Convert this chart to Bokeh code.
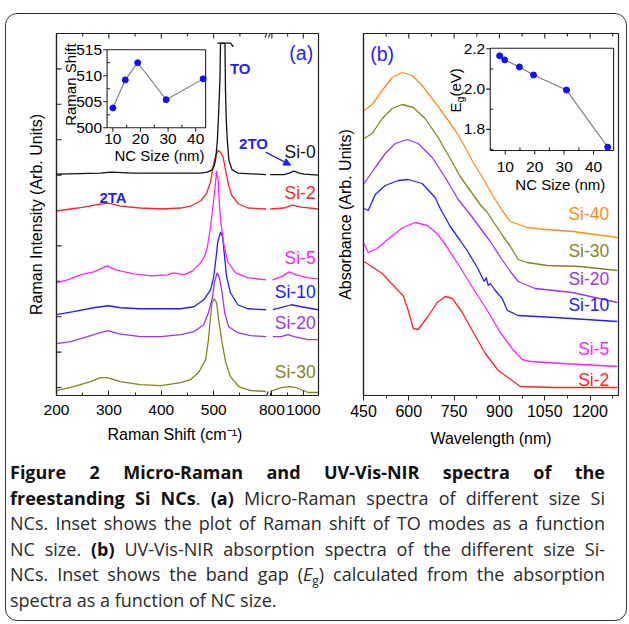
import numpy as np
from bokeh.plotting import figure
from bokeh.models import Range1d, FixedTicker, Arrow, NormalHead, Div, Title, InlineStyleSheet
from bokeh.layouts import row, column
from bokeh.embed import file_html
from bokeh.resources import INLINE
from bokeh.core.properties import value

FONT = "Liberation Sans"
BLUE = "#1f1fff"
AXC = "#222222"

# ---------------- (a) micro-Raman spectra: shift (cm^-1), intensity (arb.) ----------------
si0_shift = [200, 284, 303, 347, 412, 475, 488, 496, 501, 504, 507, 509.5, 512, 513, 521.5, 522.5, 524, 526, 529, 535, 546, 600,
             790, 877, 910, 942, 974, 1006, 1096]
si0_int = [222, 223, 224, 223, 223, 223, 224, 226, 230, 238, 256, 284, 318, 353, 353, 306, 276, 256, 236, 226.5, 223, 221.5,
           221.5, 221.5, 223, 225, 223, 222, 221]
si2_shift = [200, 240, 284, 299, 322, 360, 399, 437, 456, 475, 486.5, 494, 500, 504, 508.5, 513, 518, 523, 528.5, 534, 547.6, 565, 600,
             790, 877, 929, 987, 1096]
si2_int = [185, 188, 192, 193, 190, 188, 187, 188, 190, 195, 203, 214, 233, 241, 246, 244, 239, 225, 211, 201, 192, 188, 187,
           187, 188, 191, 189, 187]
si5_shift = [200, 221, 246, 271, 297, 313, 347, 380, 412, 423.5, 443, 460, 475, 483, 488, 494, 500, 504, 505.6, 508.5, 510.4, 513, 519,
             526.6, 542, 565, 600, 804.5, 858, 910, 955, 1032, 1096]
si5_int = [113, 116, 121, 124, 130, 126, 122, 120, 121, 123, 121, 125, 133, 140, 149, 169, 196, 216, 225, 216, 196, 176, 153,
           134, 123, 118, 116, 116, 119, 124, 121, 118, 117]
si10_shift = [200, 232.5, 271, 299, 322, 360, 399, 437, 462, 481, 494, 500, 504, 507.5, 513, 517, 520, 524.7, 532, 546, 565, 600,
              806.5, 858, 923, 987, 1096]
si10_int = [81, 84, 88, 90, 88, 87, 87, 87, 89, 96, 106, 119, 136, 153, 164, 159, 143, 119, 103, 91, 87, 86,
            86, 88, 91, 89, 86]
si20_shift = [200, 227, 259, 284, 299, 316.5, 360, 399, 437, 462, 481, 490, 498, 501, 506.6, 511, 516, 521, 528.5, 546, 570.5, 600,
              806.5, 858, 903, 942, 1032, 1096]
si20_int = [52, 54, 59, 63, 65, 62, 59, 59, 61, 64, 71, 83, 99, 113, 123, 118, 103, 83, 69, 63, 60, 59,
            59, 59, 61, 59, 56, 56]
si30_shift = [200, 232.5, 265, 284, 297, 322, 360, 399, 437, 456, 471, 484.6, 490, 494, 497, 501, 505.6, 509.4, 516, 523, 532, 547.6,
              570.5, 600, 790, 858, 910, 955, 1032, 1096]
si30_int = [5, 9, 14, 18, 18, 14, 11, 10, 13, 16, 23, 36, 56, 79, 93, 97, 93, 76, 53, 33, 19, 9,
            5, 4, 4, 8, 9, 8, 3, 3]
raman_labels = ["Si-0", "Si-2", "Si-5", "Si-10", "Si-20", "Si-30"]
raman_label_y = [244, 203, 138, 104, 73, 24]
raman_yticks = [8, 43.5, 79, 114.5, 150, 185.5, 221, 256.5, 292, 327.5]
raman_xticks = [200, 300, 400, 500, 800, 1000]
raman_xminor = [250, 350, 450, 550, 900]

# inset (a): TO Raman shift vs NC size
raman_size = [10, 14.5, 19, 29.3, 42.7]
raman_to = [503.8, 509.2, 512.5, 505.4, 509.4]

# ---------------- (b) UV-Vis-NIR: wavelength (nm), absorbance (arb.) ----------------
b40_wl = [452, 479, 512, 545, 578, 611, 644, 697, 754, 787, 813, 846, 879.5, 909, 936, 992, 1035, 1144, 1290]
b40_ab = [285, 291, 305, 318, 323, 320, 310, 289, 265, 248, 233, 217, 199, 185, 174, 168, 166.5, 164, 158]
b30_wl = [452, 479, 512, 545, 578, 614.6, 654, 697, 737, 770, 803, 836, 860, 879.5, 912.5, 936, 962, 992, 1058, 1167.5, 1290]
b30_ab = [257, 262, 277, 287, 291, 288, 277, 258, 237, 219, 205, 191, 183, 174, 159, 149, 136, 133, 130, 129, 125]
b20_wl = [452, 489, 522, 555, 595, 631, 677.5, 720.5, 763.5, 803, 840, 869.5, 906, 936, 962, 1018, 1141, 1290]
b20_ab = [212, 228, 242, 252, 256, 252, 238, 218, 196, 181, 166, 154, 137, 124, 114, 107, 103, 93]
b10_wl = [452, 465.6, 489, 522, 565, 598, 644, 687, 704, 737, 770, 793, 826.5, 849.6, 856, 863, 870, 886, 909, 926, 962, 1085, 1290]
b10_ab = [187, 185, 201, 210, 215, 216, 212, 198, 187, 169, 155, 145, 128, 114, 118, 110, 112, 105, 97, 85, 80, 78, 74]
b5_wl = [452, 465.6, 495, 538, 581, 621, 661, 694, 727, 770, 813, 860, 903, 942, 975, 1002, 1111, 1290]
b5_ab = [152, 143, 147, 158, 168, 173, 170, 162, 148, 128, 107, 85, 63, 47, 36, 34, 32, 29]
b2_wl = [452, 512, 555, 581, 598, 615, 631, 661, 694, 720.5, 744, 777, 810, 853, 896, 942, 969, 1085, 1290]
b2_ab = [134, 122, 108, 100, 85, 67, 66, 78, 93, 99, 97, 83, 65, 42, 25, 15, 9, 8, 8]
uv_labels = ["Si-40", "Si-30", "Si-20", "Si-10", "Si-5", "Si-2"]
uv_label_y = [182, 145, 117, 91, 47, 16]
uv_xticks = [450, 600, 750, 900, 1050, 1200]
uv_xminor = [525, 675, 825, 975, 1125, 1275]

# inset (b): band gap vs NC size
eg_size = [8.1, 9.8, 14.8, 19.6, 30.8, 44.8]
eg_ev = [2.165, 2.145, 2.11, 2.07, 1.995, 1.712]

COL = {"Si-0": "#111111", "Si-2": "#ff2424", "Si-5": "#ff22ff", "Si-10": "#2020ff",
       "Si-20": "#9933ff", "Si-30": "#84841c", "Si-40": "#ff8c1a"}

# ---------- broken x axis for (a) ----------
BREAK_LO = 600.0


def axis_u(s):
    return s if s <= BREAK_LO else 611.0 + 0.3 * (s - 800.0)


def to_axis(shift, inten):
    xs, ys, prev = [], [], None
    for s, v in zip(shift, inten):
        if prev is not None and prev <= BREAK_LO < s:
            xs.append(np.nan)
            ys.append(np.nan)
        xs.append(axis_u(s))
        ys.append(v)
        prev = s
    return xs, ys


def txt(p, x, y, s, size, color="black", align="left", baseline="middle", bold=False, angle=0.0,
        xo=0, yo=0, xr="default", yr="default"):
    p.text(x=[x], y=[y], text=[s], text_font=value(FONT), text_font_size=f"{size}px", text_color=color,
           text_align=align, text_baseline=baseline, text_font_style="bold" if bold else "normal",
           angle=angle, x_offset=xo, y_offset=yo, x_range_name=xr, y_range_name=yr)


def style_axis(ax, label_size="15.5px"):
    ax.axis_line_color = AXC
    ax.axis_line_width = 1.2
    ax.major_tick_line_color = AXC
    ax.minor_tick_line_color = AXC
    ax.major_label_text_font = FONT
    ax.major_label_text_font_size = label_size
    ax.major_label_text_color = "black"
    ax.axis_label_text_font = FONT
    ax.axis_label_text_font_style = "normal"
    ax.axis_label_text_font_size = "16px"
    ax.axis_label_text_color = "black"


def ticks(p, xs, ys, length, angle, **kw):
    p.ray(x=xs, y=ys, length=length, length_units="screen", angle=angle, line_color=AXC, line_width=1.1, **kw)


def inset_range(main0, main1, r0, r1, d0, d1):
    k = (d1 - d0) / (r1 - r0)
    return Range1d(d0 - (r0 - main0) * k, d1 + (main1 - r1) * k)


def add_inset(p, name, mx, my, rect, dx, dy, xs, ys, xmaj, xmin, ymaj, ymin, ylabels, xlab_off, ylab_off):
    (u0, u1, v0, v1) = rect
    p.extra_x_ranges[name] = inset_range(mx[0], mx[1], u0, u1, dx[0], dx[1])
    p.extra_y_ranges[name] = inset_range(my[0], my[1], v0, v1, dy[0], dy[1])
    kw = dict(x_range_name=name, y_range_name=name)
    p.quad(left=[dx[0]], right=[dx[1]], bottom=[dy[0]], top=[dy[1]], fill_color="white",
           line_color=AXC, line_width=1.1, **kw)
    ticks(p, xmaj, [dy[0]] * len(xmaj), 4, -np.pi / 2, **kw)
    ticks(p, xmin, [dy[0]] * len(xmin), 3, np.pi / 2, **kw)
    ticks(p, [dx[0]] * len(ymaj), ymaj, 4, np.pi, **kw)
    ticks(p, [dx[0]] * len(ymin), ymin, 3, 0.0, **kw)
    p.line(xs, ys, line_color="#7a7a7a", line_width=1.1, **kw)
    p.scatter(xs, ys, size=6, fill_color="#1010ff", line_color="#1010ff", **kw)
    for t in xmaj:
        txt(p, t, dy[0], str(t), 15.5, align="center", yo=xlab_off, xr=name, yr=name)
    for t, s in zip(ymaj, ylabels):
        txt(p, dx[0], t, s, 15.5, align="right", xo=-ylab_off, xr=name, yr=name)


# ================= panel (a) =================
AX0, AX1, AY0, AY1 = 200, 700, 0, 363
pa = figure(width=333, height=450, x_range=Range1d(AX0, AX1), y_range=Range1d(AY0, AY1),
            output_backend="svg", toolbar_location=None, min_border_left=56, min_border_right=15,
            min_border_top=33, min_border_bottom=54)
pa.grid.visible = False
pa.outline_line_color = AXC
pa.outline_line_width = 1.2

xt = [axis_u(t) for t in raman_xticks]
xm = [axis_u(t) for t in raman_xminor]
pa.xaxis.ticker = FixedTicker(ticks=xt, minor_ticks=xm)
pa.xaxis.major_label_overrides = {axis_u(t): str(t) for t in raman_xticks}
style_axis(pa.xaxis[0])
pa.xaxis.major_tick_in = 5
pa.xaxis.major_tick_out = 0
pa.xaxis.minor_tick_in = 3
pa.xaxis.minor_tick_out = 0
pa.xaxis.major_label_standoff = 9
ticks(pa, xt, [AY1] * len(xt), 5, -np.pi / 2)
ticks(pa, xm, [AY1] * len(xm), 3, -np.pi / 2)

pa.yaxis.ticker = FixedTicker(ticks=[], minor_ticks=[])
style_axis(pa.yaxis[0])
pa.yaxis.major_label_standoff = 0
pa.yaxis.axis_label = "Raman Intensity (Arb. Units)"
pa.yaxis.axis_label_standoff = 12
ticks(pa, [AX0] * len(raman_yticks), raman_yticks, 5, 0.0)

raman_series = [("Si-0", si0_shift, si0_int), ("Si-2", si2_shift, si2_int), ("Si-5", si5_shift, si5_int),
                ("Si-10", si10_shift, si10_int), ("Si-20", si20_shift, si20_int), ("Si-30", si30_shift, si30_int)]
for name, sh, it in reversed(raman_series):
    xs, ys = to_axis(sh, it)
    pa.line(xs, ys, line_color=COL[name], line_width=1.3)

# truncated TO peak cap of Si-0
pa.line([507, 532.4, 537.5], [353.3, 353.3, 349.7], line_color=COL["Si-0"], line_width=1.3)

for name, ly in zip(raman_labels, raman_label_y):
    txt(pa, 694.5, ly, name, 17.5, color=COL[name], align="right")
txt(pa, 667, 343, "(a)", 19.5, color=BLUE, align="center")
txt(pa, 550.5, 328, "TO", 15, color=BLUE, align="center", bold=True)
txt(pa, 576, 253, "2TO", 15, color=BLUE, align="center", bold=True)
txt(pa, 308, 199, "2TA", 15, color=BLUE, align="center", bold=True)
pa.add_layout(Arrow(end=NormalHead(size=7, fill_color=BLUE, line_color=BLUE), x_start=599, y_start=244,
                    x_end=647, y_end=231, line_color=BLUE, line_width=1.3))

# axis-break marks "//"
for yb in (AY0, AY1):
    pa.add_layout(Arrow(end=None, x_start=601.5, y_start=yb, x_end=606.5, y_end=yb, line_color="white", line_width=3))
    for x0 in (598.0, 604.5):
        pa.add_layout(Arrow(end=None, x_start=x0, y_start=yb - 4, x_end=x0 + 6, y_end=yb + 4,
                            line_color=AXC, line_width=1.1))

pa.add_layout(Title(text="Raman Shift (cm\u207b\u00b9)", align="left", offset=51, text_font=FONT,
                    text_font_size="16px", text_font_style="normal", text_color="black", standoff=13), "below")

add_inset(pa, "ia", (AX0, AX1), (AY0, AY1), (296.5, 484.6, 268.5, 346.7), (7.9, 43.6), (500, 515),
          raman_size, raman_to, [10, 20, 30, 40], [15, 25, 35], [500, 505, 510, 515], [502.5, 507.5, 512.5],
          ["500", "505", "510", "515"], 11, 5)
txt(pa, 26.9, 500, "NC Size (nm)", 15, align="center", yo=28, xr="ia", yr="ia")
txt(pa, 7.9, 508.3, "Raman Shift", 15, align="center", angle=np.pi / 2, xo=-36.5, xr="ia", yr="ia")

# ================= panel (b) =================
BX0, BX1, BY0, BY1 = 450, 1294, 0, 362
pb = figure(width=296, height=450, x_range=Range1d(BX0, BX1), y_range=Range1d(BY0, BY1),
            output_backend="svg", toolbar_location=None, min_border_left=30, min_border_right=11,
            min_border_top=33, min_border_bottom=55)
pb.grid.visible = False
pb.outline_line_color = AXC
pb.outline_line_width = 1.2
pb.xaxis.ticker = FixedTicker(ticks=uv_xticks, minor_ticks=uv_xminor)
style_axis(pb.xaxis[0], "16px")
pb.xaxis.major_tick_in = 0
pb.xaxis.major_tick_out = 5
pb.xaxis.minor_tick_in = 0
pb.xaxis.minor_tick_out = 3
pb.xaxis.major_label_standoff = 4
pb.xaxis.axis_label = "Wavelength (nm)"
pb.xaxis.axis_label_standoff = 10
ticks(pb, uv_xticks, [BY1] * len(uv_xticks), 5, -np.pi / 2)
ticks(pb, uv_xminor, [BY1] * len(uv_xminor), 3, -np.pi / 2)
pb.yaxis.ticker = FixedTicker(ticks=[], minor_ticks=[])
style_axis(pb.yaxis[0])
pb.yaxis.major_label_standoff = 0
pb.yaxis.axis_label = "Absorbance (Arb. Units)"
pb.yaxis.axis_label_standoff = 10

uv_series = [("Si-40", b40_wl, b40_ab), ("Si-30", b30_wl, b30_ab), ("Si-20", b20_wl, b20_ab),
             ("Si-10", b10_wl, b10_ab), ("Si-5", b5_wl, b5_ab), ("Si-2", b2_wl, b2_ab)]
for name, wl, ab in uv_series:
    pb.line(wl, ab, line_color=COL[name], line_width=1.3)
for name, ly in zip(uv_labels, uv_label_y):
    txt(pb, 1263.5, ly, name, 17.5, color=COL[name], align="right")
txt(pb, 472, 342, "(b)", 19.5, color=BLUE, align="left")

add_inset(pb, "ib", (BX0, BX1), (BY0, BY1), (869.5, 1277.8, 245, 347.3), (4.9, 46.8), (1.695, 2.203),
          eg_size, eg_ev, [10, 20, 30, 40], [5, 15, 25, 35, 45], [1.8, 2.0, 2.2], [1.7, 1.9, 2.1],
          ["1.8", "2.0", "2.2"], 16, 5)
txt(pb, 28.7, 1.695, "NC Size (nm)", 15, align="center", yo=34, xr="ib", yr="ib")
txt(pb, 4.9, 1.884, "E", 15, align="left", angle=np.pi / 2, xo=-35, xr="ib", yr="ib")
txt(pb, 4.9, 1.934, "g", 10, align="left", angle=np.pi / 2, xo=-30, xr="ib", yr="ib")
txt(pb, 4.9, 1.963, "(eV)", 15, align="left", angle=np.pi / 2, xo=-35, xr="ib", yr="ib")

# ================= caption =================
J = "text-align:justify;text-align-last:justify;white-space:nowrap;"
caption = (
    "<div style=\"font-family:'Open Sans';font-size:18px;line-height:25.5px;color:#2a2a2a;"
    "padding:10px 0 0 10px;width:605px;\">"
    f"<div style='{J}'><b style='color:#111'>Figure 2 Micro-Raman and UV-Vis-NIR spectra of the</b></div>"
    f"<div style='{J}'><b style='color:#111'>freestanding Si NCs</b>. <b style='color:#111'>(a)</b> "
    "Micro-Raman spectra of different size Si</div>"
    f"<div style='{J}'>NCs. Inset shows the plot of Raman shift of TO modes as a function</div>"
    f"<div style='{J}'>NC size. <b style='color:#111'>(b)</b> UV-Vis-NIR absorption spectra of the different size Si-</div>"
    f"<div style='{J}'>NCs. Inset shows the band gap (<i>E</i><sub style='font-size:12px;line-height:0;"
    "vertical-align:-4px'>g</sub>) calculated from the absorption</div>"
    "<div>spectra as a function of NC size.</div>"
    "</div>"
)
cap = Div(text=caption, width=629, height=172, margin=(0, 0, 0, 0))

frame_css = InlineStyleSheet(css=(
    ":host { position: relative; }\n"
    ":host::after { content: ''; position: absolute; left: 5px; top: 13px; width: 622px; height: 608px;"
    " border: 1.5px solid #333333; border-radius: 12px; box-sizing: border-box; pointer-events: none; z-index: 100; }"
))

layout = column(row(pa, pb), cap, stylesheets=[frame_css])

with open("out.html", "w") as f:
    f.write(file_html(layout, INLINE))
